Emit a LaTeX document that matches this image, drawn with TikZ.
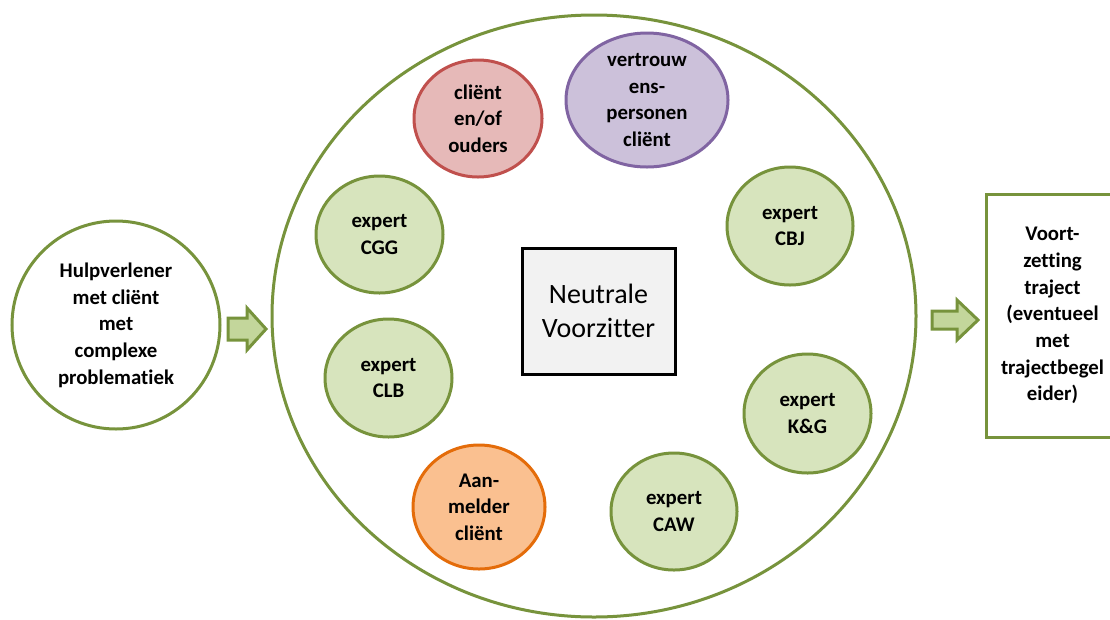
\documentclass[tikz,border=0pt]{standalone}
\usepackage{fontspec}
\setmainfont[Ligatures=NoCommon]{Carlito}
\usetikzlibrary{shapes.geometric}
\definecolor{gline}{HTML}{77933C}
\definecolor{gfill}{HTML}{D7E4BD}
\definecolor{afill}{HTML}{C3D69B}
\definecolor{rline}{HTML}{C0504D}
\definecolor{rfill}{HTML}{E6B9B8}
\definecolor{pline}{HTML}{8064A2}
\definecolor{pfill}{HTML}{CCC1DA}
\definecolor{oline}{HTML}{E46C0A}
\definecolor{ofill}{HTML}{FAC090}
\definecolor{cfill}{HTML}{F2F2F2}
\tikzset{
  lbl/.style={font=\fontsize{15.6pt}{20pt}\selectfont\bfseries, align=center},
  ell/.style n args={2}{ellipse, inner sep=0pt, line width=2.25pt, minimum width=#1*0.75pt, minimum height=#2*0.75pt, lbl},
  greenell/.style 2 args={ell={#1}{#2}, draw=gline, fill=gfill},
  blockarrow/.style={draw=gline, fill=afill, line width=2.25pt, line join=miter},
}
\begin{document}
\begin{tikzpicture}[x=0.75pt, y=-0.75pt]
\useasboundingbox (0,0) rectangle (1110,619);
% big circle
\node[ell={644}{602}, draw=gline, fill=white] (big) at (594,316) {};
% left circle
\node[ell={208}{208}, draw=gline, fill=white] (left) at (116,325) {Hulpverlener\\met cliënt\\met\\complexe\\problematiek};
% right box
\node[draw=gline, fill=white, line width=2.25pt, minimum width=133*0.75pt, minimum height=243*0.75pt, inner sep=0pt, lbl] (right) at (1052.5,315.5) {Voort-\\zetting\\traject\\(eventueel\\met\\trajectbegel\\eider)};
% center box
\node[draw=black, fill=cfill, line width=2.25pt, minimum width=153*0.75pt, minimum height=126*0.75pt, inner sep=0pt, align=center, font=\fontsize{21pt}{26pt}\selectfont] (chair) at (598.5,311) {Neutrale\\Voorzitter};
% small circles
\node[ell={128}{117}, draw=rline, fill=rfill] (client) at (478,118.5) {cliënt\\en/of\\ouders};
\node[ell={162}{134}, draw=pline, fill=pfill] (trust) at (647,100) {vertrouw\\ens-\\personen\\cliënt};
\node[greenell={127}{117}] (cgg) at (379.5,234.5) {expert\\CGG};
\node[greenell={126}{118}] (cbj) at (790,226) {expert\\CBJ};
\node[greenell={127}{118}] (clb) at (388.5,378) {expert\\CLB};
\node[greenell={127}{119}] (kg) at (807.5,413.5) {expert\\K\&G};
\node[ell={132}{124}, draw=oline, fill=ofill] (aanm) at (479,507) {Aan-\\melder\\cliënt};
\node[greenell={126}{117}] (caw) at (674,511.5) {expert\\CAW};
% block arrows
\draw[blockarrow] (228,318) -- (247,318) -- (247,308) -- (266,329) -- (247,350) -- (247,340) -- (228,340) -- cycle;
\draw[blockarrow] (932,311) -- (957,311) -- (957,300) -- (978,320) -- (957,340) -- (957,329) -- (932,329) -- cycle;
\end{tikzpicture}
\end{document}
